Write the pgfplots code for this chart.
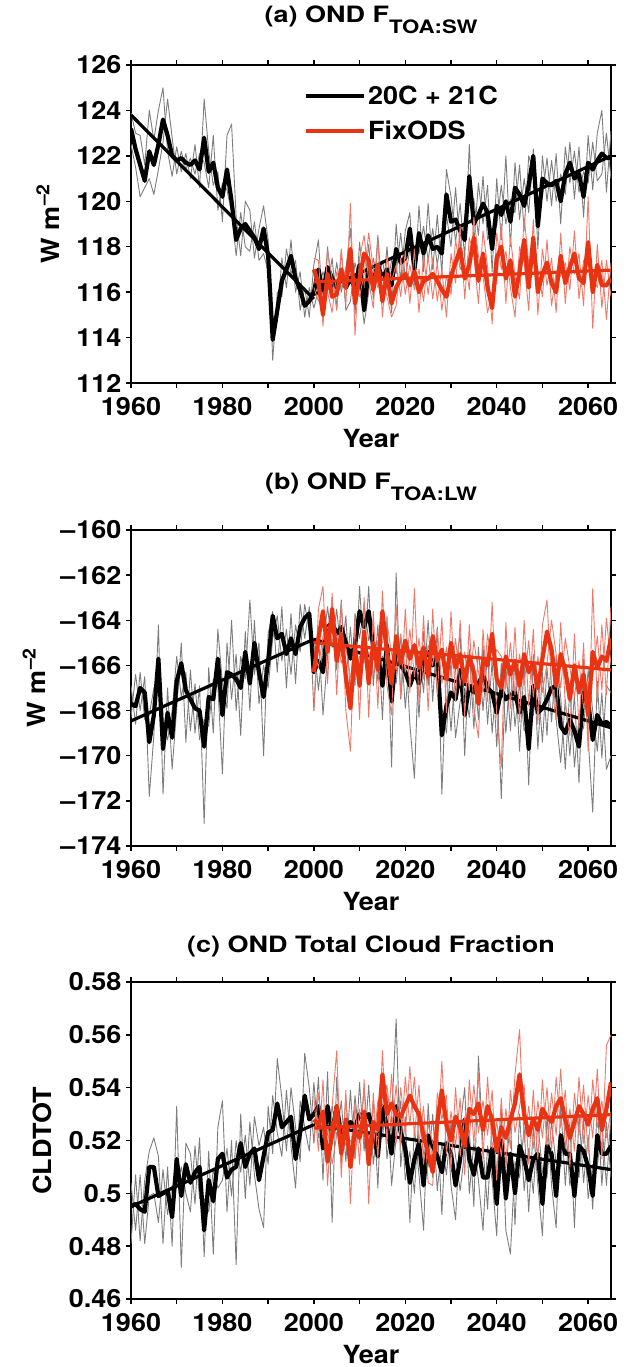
\documentclass[border=0pt]{standalone}
\usepackage{fontspec}
\setmainfont{TeX Gyre Heros}[FakeStretch=1.08]
\newfontfamily\titlefont{TeX Gyre Heros}[FakeStretch=1.2]
\usepackage{pgfplots}
\pgfplotsset{compat=1.18}
\usepackage{pgfplotstable}
\definecolor{redthick}{RGB}{232,52,18}
\definecolor{redthin}{RGB}{240,120,105}
\definecolor{graythin}{RGB}{125,125,125}
\newcommand{\bigf}{\fontsize{25}{25}\selectfont\bfseries}
\newcommand{\titf}{\titlefont\fontsize{22.5}{22.5}\selectfont\bfseries}

\pgfplotstableread{
year m g1 g2
1960 123.2 123.9 122.5
1961 122.3 123.0 121.5
1962 121.6 122.9 120.2
1963 120.9 121.6 120.6
1964 122.2 124.0 121.0
1965 121.6 122.7 120.3
1966 122.5 124.0 121.4
1967 123.6 125.0 122.6
1968 122.9 122.2 124.5
1969 122.0 121.1 122.8
1970 121.8 122.4 121.2
1971 121.9 121.3 122.2
1972 121.7 122.1 121.4
1973 121.6 121.0 121.9
1974 121.8 122.5 121.2
1975 121.4 120.6 122.1
1976 122.8 124.5 121.7
1977 121.3 122.2 120.6
1978 121.7 120.7 122.9
1979 120.6 121.3 119.6
1980 120.2 119.1 120.8
1981 121.4 122.9 120.5
1982 120.0 123.4 119.5
1983 118.3 119.3 117.6
1984 118.8 117.6 119.5
1985 119.0 120.0 118.0
1986 118.7 119.6 117.8
1987 118.4 117.5 119.1
1988 117.9 118.8 117.4
1989 118.8 119.8 117.7
1990 117.6 118.3 116.9
1991 113.9 113.0 114.7
1992 115.2 116.0 114.7
1993 116.5 115.8 117.5
1994 117.0 117.9 116.2
1995 117.6 116.8 118.3
1996 116.6 117.4 116.0
1997 116.1 115.2 116.9
1998 115.4 116.2 114.9
1999 115.6 114.9 116.2
2000 116.0 117.2 115.3
2001 117.0 118.3 116.1
2002 116.0 115.2 116.9
2003 117.1 118.0 116.2
2004 116.6 115.9 117.5
2005 116.2 117.3 115.3
2006 116.8 116.0 117.8
2007 116.2 117.0 115.2
2008 116.6 118.8 115.6
2009 116.2 115.0 117.3
2010 117.2 118.2 116.4
2011 115.2 116.2 114.6
2012 117.0 118.1 116.0
2013 116.5 115.7 117.5
2014 117.2 118.5 116.4
2015 116.6 115.7 117.4
2016 117.0 118.0 116.2
2017 116.3 115.1 117.4
2018 117.9 119.0 116.8
2019 117.3 116.5 118.6
2020 117.5 118.7 116.6
2021 118.8 119.5 117.9
2022 117.0 116.3 118.0
2023 118.6 119.8 117.7
2024 117.7 116.9 118.9
2025 118.5 119.9 117.4
2026 117.9 117.0 118.8
2027 118.0 119.4 117.2
2028 117.7 116.8 118.6
2029 120.3 121.4 119.4
2030 119.1 120.2 118.0
2031 119.2 118.2 120.6
2032 118.7 119.9 117.9
2033 118.3 117.5 119.3
2034 121.1 122.5 120.2
2035 119.0 118.1 120.1
2036 119.4 120.8 118.5
2037 119.9 119.0 121.1
2038 119.5 120.7 118.3
2039 117.9 116.9 118.8
2040 119.8 121.0 118.9
2041 119.4 118.3 120.7
2042 120.0 122.0 119.0
2043 119.1 118.0 120.1
2044 120.6 121.7 119.5
2045 120.3 119.2 121.6
2046 119.8 121.0 118.7
2047 120.7 119.5 122.0
2048 122.0 122.3 121.3
2049 118.9 117.9 120.0
2050 121.0 122.0 120.2
2051 120.8 120.0 121.9
2052 120.7 121.8 119.8
2053 120.9 120.0 122.1
2054 120.0 121.2 119.0
2055 121.2 120.3 122.4
2056 121.7 122.6 120.8
2057 121.0 120.1 122.2
2058 121.2 122.4 120.4
2059 120.2 119.3 121.3
2060 121.7 122.9 120.8
2061 121.4 120.5 122.6
2062 121.8 123.0 120.9
2063 122.1 124.0 121.2
2064 121.9 120.4 123.0
2065 121.9 123.1 121.0
}\tabA

\pgfplotstableread{
year m r1 r2
2000 117.0 117.5 116.2
2001 116.4 117.4 115.6
2002 115.0 114.5 116.0
2003 116.8 117.8 116.0
2004 115.8 116.6 115.1
2005 115.9 115.2 116.9
2006 117.0 117.9 116.2
2007 116.2 115.4 117.1
2008 117.9 119.9 116.8
2009 115.5 114.1 116.6
2010 116.6 117.5 115.8
2011 117.7 118.5 116.8
2012 117.4 116.5 118.6
2013 116.1 115.3 117.0
2014 117.2 118.3 116.2
2015 115.6 114.9 116.7
2016 116.8 117.6 115.8
2017 115.5 116.5 114.9
2018 116.2 117.2 115.4
2019 116.6 115.8 117.5
2020 116.8 117.8 115.9
2021 116.3 115.5 117.2
2022 116.9 117.9 116.1
2023 116.0 115.1 117.0
2024 116.5 117.6 115.6
2025 116.6 115.9 117.6
2026 116.8 117.5 115.7
2027 116.5 115.6 117.3
2028 116.1 117.0 115.2
2029 115.8 114.9 116.7
2030 116.7 117.7 115.9
2031 117.3 116.4 118.3
2032 117.9 118.9 117.0
2033 116.6 115.7 117.5
2034 117.2 118.4 116.1
2035 118.4 117.6 119.3
2036 116.5 115.5 117.6
2037 117.7 118.7 116.7
2038 116.2 117.1 115.1
2039 115.3 114.6 116.0
2040 117.5 118.6 116.4
2041 118.0 117.0 119.0
2042 116.6 117.8 115.5
2043 117.4 116.2 118.4
2044 115.8 114.9 116.7
2045 116.9 118.0 115.7
2046 118.3 117.3 119.3
2047 116.2 115.2 117.3
2048 118.4 119.2 117.4
2049 116.0 115.0 117.0
2050 116.8 117.9 115.8
2051 117.3 116.3 118.3
2052 116.4 117.5 115.4
2053 116.0 115.1 116.9
2054 117.6 118.6 116.7
2055 116.4 115.5 117.3
2056 117.1 118.0 116.1
2057 117.7 116.8 118.7
2058 116.6 117.7 115.7
2059 116.4 115.4 117.4
2060 118.2 120.2 117.2
2061 116.0 114.4 116.8
2062 117.2 118.1 116.2
2063 116.3 115.3 117.4
2064 116.3 117.4 114.8
2065 116.6 115.8 117.3
}\tabAr

\pgfplotstableread{
year m g1 g2
1960 -167.7 -168.3 -166.9
1961 -167.8 -166.4 -168.6
1962 -167.0 -168.0 -166.3
1963 -167.2 -166.5 -168.4
1964 -169.4 -171.8 -168.2
1965 -168.2 -169.1 -167.0
1966 -165.7 -164.2 -166.8
1967 -169.7 -171.7 -168.5
1968 -168.1 -167.0 -169.3
1969 -169.2 -170.6 -168.0
1970 -166.7 -167.9 -165.6
1971 -165.9 -165.0 -167.4
1972 -167.1 -169.4 -166.3
1973 -167.5 -166.2 -168.9
1974 -167.9 -169.0 -166.8
1975 -168.0 -166.9 -169.3
1976 -169.6 -173.0 -168.4
1977 -167.4 -166.1 -168.7
1978 -167.5 -169.0 -166.6
1979 -165.7 -164.4 -166.9
1980 -168.2 -166.8 -170.8
1981 -166.3 -167.9 -165.0
1982 -166.4 -164.0 -167.5
1983 -166.6 -168.0 -165.5
1984 -167.0 -165.6 -169.1
1985 -165.4 -166.6 -164.5
1986 -166.8 -163.1 -168.0
1987 -165.0 -166.4 -164.0
1988 -166.3 -165.0 -167.7
1989 -167.4 -170.0 -166.0
1990 -165.8 -164.6 -167.0
1991 -163.8 -163.6 -164.8
1992 -164.8 -166.3 -163.8
1993 -164.6 -163.4 -165.8
1994 -165.5 -167.0 -164.4
1995 -164.8 -163.7 -166.4
1996 -165.5 -166.8 -164.2
1997 -164.3 -163.3 -165.4
1998 -163.9 -164.8 -163.3
1999 -163.7 -163.4 -164.5
2000 -166.3 -168.0 -165.0
2001 -165.8 -164.6 -167.1
2002 -166.3 -168.2 -165.1
2003 -164.3 -165.6 -163.4
2004 -164.1 -163.0 -165.2
2005 -164.6 -166.2 -163.5
2006 -164.3 -163.1 -165.6
2007 -165.0 -166.7 -163.8
2008 -165.7 -164.3 -167.4
2009 -165.1 -166.9 -163.7
2010 -163.6 -162.5 -164.8
2011 -164.3 -165.8 -163.3
2012 -163.6 -162.5 -164.9
2013 -165.2 -166.9 -164.1
2014 -165.5 -164.2 -166.7
2015 -166.9 -168.4 -165.6
2016 -165.1 -163.8 -166.5
2017 -167.6 -170.5 -166.4
2018 -165.4 -161.9 -166.8
2019 -166.0 -167.5 -164.7
2020 -166.3 -164.9 -167.9
2021 -166.9 -168.6 -165.5
2022 -166.3 -171.0 -165.1
2023 -166.8 -165.4 -168.3
2024 -165.7 -167.2 -164.5
2025 -165.4 -164.0 -166.9
2026 -166.0 -167.6 -164.8
2027 -165.6 -164.3 -167.2
2028 -169.1 -171.7 -167.9
2029 -167.8 -166.2 -169.0
2030 -167.2 -168.9 -165.8
2031 -167.5 -166.1 -169.2
2032 -166.2 -164.6 -167.6
2033 -168.2 -170.0 -167.0
2034 -166.9 -165.3 -168.3
2035 -167.2 -168.8 -165.9
2036 -166.8 -165.2 -168.4
2037 -166.4 -168.0 -165.1
2038 -167.0 -165.5 -168.6
2039 -167.2 -169.0 -165.8
2040 -168.1 -166.6 -169.6
2041 -167.1 -171.9 -165.9
2042 -167.5 -166.0 -169.0
2043 -167.3 -168.9 -166.0
2044 -167.2 -165.8 -168.7
2045 -168.1 -169.8 -166.8
2046 -167.4 -165.9 -168.9
2047 -169.7 -171.3 -168.4
2048 -166.9 -165.5 -168.2
2049 -168.1 -169.7 -166.7
2050 -167.9 -166.3 -169.4
2051 -167.5 -169.1 -166.1
2052 -167.0 -165.4 -168.5
2053 -166.9 -168.4 -165.6
2054 -168.7 -170.3 -167.4
2055 -169.0 -167.5 -170.6
2056 -168.4 -170.0 -167.0
2057 -168.9 -167.3 -170.5
2058 -169.6 -171.2 -168.3
2059 -167.2 -165.7 -168.8
2060 -167.6 -169.2 -166.2
2061 -169.3 -172.5 -168.0
2062 -168.2 -166.7 -169.8
2063 -168.6 -170.1 -167.2
2064 -168.5 -166.9 -170.6
2065 -168.7 -167.2 -170.0
}\tabB

\pgfplotstableread{
year m r1 r2
2000 -166.3 -168.0 -165.2
2001 -164.8 -163.5 -166.1
2002 -163.6 -162.5 -164.7
2003 -165.4 -166.8 -164.3
2004 -163.5 -162.8 -164.9
2005 -165.8 -167.3 -164.6
2006 -164.6 -163.2 -165.9
2007 -166.5 -168.0 -165.2
2008 -167.9 -169.8 -166.5
2009 -165.2 -163.9 -166.6
2010 -166.9 -168.4 -165.6
2011 -164.5 -163.0 -165.9
2012 -166.8 -168.3 -165.4
2013 -165.0 -163.6 -166.4
2014 -166.2 -167.9 -164.9
2015 -163.6 -162.7 -165.0
2016 -165.4 -166.9 -164.1
2017 -166.8 -168.2 -165.5
2018 -164.7 -163.3 -166.2
2019 -165.9 -167.4 -164.6
2020 -164.9 -163.5 -166.3
2021 -165.7 -167.2 -164.4
2022 -165.1 -162.6 -166.5
2023 -166.1 -167.7 -164.8
2024 -165.2 -163.8 -166.6
2025 -166.5 -168.0 -165.1
2026 -164.7 -163.5 -166.0
2027 -165.8 -167.3 -164.4
2028 -165.3 -163.9 -166.8
2029 -166.6 -168.1 -165.2
2030 -165.0 -163.6 -166.4
2031 -166.1 -167.6 -164.8
2032 -165.5 -164.0 -166.9
2033 -166.7 -168.3 -165.4
2034 -165.6 -164.2 -167.1
2035 -166.3 -167.9 -164.9
2036 -167.7 -169.2 -166.3
2037 -165.8 -164.4 -167.2
2038 -166.0 -167.6 -164.6
2039 -164.6 -163.2 -166.0
2040 -166.6 -168.2 -165.3
2041 -167.0 -170.5 -165.6
2042 -165.6 -164.1 -167.0
2043 -166.4 -167.9 -165.0
2044 -165.8 -164.3 -167.3
2045 -166.9 -168.5 -165.5
2046 -165.5 -164.0 -166.9
2047 -166.3 -167.8 -164.9
2048 -165.9 -164.4 -167.4
2049 -167.0 -168.6 -165.6
2050 -165.7 -164.2 -167.2
2051 -164.5 -163.1 -165.9
2052 -165.3 -166.9 -164.0
2053 -166.9 -168.4 -165.5
2054 -165.5 -164.1 -167.0
2055 -166.2 -167.7 -164.8
2056 -167.5 -169.1 -166.1
2057 -166.0 -164.6 -167.4
2058 -167.2 -168.8 -165.8
2059 -166.4 -165.0 -167.9
2060 -168.2 -169.8 -166.8
2061 -165.4 -162.6 -166.5
2062 -166.1 -167.6 -164.7
2063 -165.6 -164.2 -167.1
2064 -165.8 -167.3 -163.9
2065 -164.8 -163.4 -166.0
}\tabBr

\pgfplotstableread{
year m g1 g2
1960 0.495 0.481 0.504
1961 0.496 0.507 0.486
1962 0.494 0.482 0.507
1963 0.493 0.505 0.481
1964 0.510 0.516 0.499
1965 0.510 0.521 0.500
1966 0.499 0.514 0.489
1967 0.500 0.481 0.509
1968 0.501 0.510 0.492
1969 0.491 0.480 0.503
1970 0.513 0.533 0.502
1971 0.499 0.472 0.510
1972 0.511 0.519 0.500
1973 0.504 0.515 0.493
1974 0.508 0.496 0.518
1975 0.510 0.521 0.498
1976 0.486 0.476 0.498
1977 0.505 0.516 0.493
1978 0.497 0.477 0.509
1979 0.513 0.525 0.502
1980 0.515 0.535 0.505
1981 0.506 0.493 0.517
1982 0.509 0.520 0.499
1983 0.510 0.473 0.520
1984 0.519 0.530 0.508
1985 0.510 0.498 0.522
1986 0.515 0.527 0.503
1987 0.517 0.507 0.529
1988 0.505 0.494 0.518
1989 0.514 0.487 0.525
1990 0.523 0.533 0.511
1991 0.524 0.515 0.537
1992 0.534 0.551 0.523
1993 0.525 0.536 0.514
1994 0.527 0.516 0.539
1995 0.529 0.540 0.518
1996 0.513 0.525 0.502
1997 0.523 0.512 0.535
1998 0.537 0.553 0.525
1999 0.528 0.540 0.516
2000 0.530 0.519 0.542
2001 0.533 0.544 0.521
2002 0.517 0.505 0.529
2003 0.533 0.546 0.522
2004 0.523 0.489 0.533
2005 0.533 0.544 0.521
2006 0.522 0.511 0.535
2007 0.524 0.536 0.512
2008 0.527 0.514 0.539
2009 0.525 0.537 0.513
2010 0.530 0.519 0.542
2011 0.528 0.540 0.516
2012 0.530 0.518 0.541
2013 0.523 0.535 0.511
2014 0.514 0.502 0.526
2015 0.533 0.545 0.521
2016 0.525 0.513 0.537
2017 0.515 0.528 0.503
2018 0.533 0.566 0.521
2019 0.523 0.510 0.535
2020 0.517 0.529 0.505
2021 0.504 0.489 0.516
2022 0.513 0.525 0.500
2023 0.519 0.507 0.531
2024 0.503 0.486 0.515
2025 0.522 0.534 0.510
2026 0.518 0.506 0.530
2027 0.514 0.526 0.501
2028 0.508 0.492 0.519
2029 0.519 0.531 0.507
2030 0.515 0.503 0.527
2031 0.503 0.490 0.514
2032 0.513 0.525 0.501
2033 0.528 0.540 0.516
2034 0.513 0.500 0.524
2035 0.507 0.519 0.495
2036 0.517 0.505 0.552
2037 0.506 0.486 0.518
2038 0.506 0.518 0.494
2039 0.517 0.505 0.529
2040 0.496 0.484 0.508
2041 0.520 0.532 0.508
2042 0.498 0.486 0.510
2043 0.515 0.477 0.527
2044 0.500 0.512 0.488
2045 0.518 0.506 0.530
2046 0.513 0.525 0.501
2047 0.505 0.493 0.517
2048 0.513 0.525 0.500
2049 0.515 0.503 0.527
2050 0.496 0.484 0.508
2051 0.518 0.530 0.506
2052 0.515 0.503 0.527
2053 0.499 0.487 0.511
2054 0.522 0.534 0.510
2055 0.515 0.503 0.527
2056 0.515 0.527 0.503
2057 0.499 0.487 0.511
2058 0.518 0.530 0.506
2059 0.516 0.504 0.528
2060 0.510 0.522 0.498
2061 0.499 0.494 0.511
2062 0.522 0.534 0.510
2063 0.515 0.503 0.527
2064 0.515 0.527 0.503
2065 0.518 0.506 0.530
}\tabC

\pgfplotstableread{
year m r1 r2
2000 0.528 0.537 0.519
2001 0.526 0.516 0.538
2002 0.531 0.543 0.521
2003 0.512 0.503 0.524
2004 0.522 0.533 0.511
2005 0.533 0.554 0.522
2006 0.515 0.506 0.526
2007 0.528 0.539 0.518
2008 0.510 0.496 0.520
2009 0.524 0.534 0.513
2010 0.521 0.511 0.532
2011 0.531 0.543 0.520
2012 0.511 0.496 0.522
2013 0.527 0.538 0.517
2014 0.524 0.513 0.535
2015 0.545 0.554 0.533
2016 0.530 0.519 0.541
2017 0.534 0.545 0.523
2018 0.530 0.519 0.541
2019 0.529 0.540 0.518
2020 0.533 0.522 0.544
2021 0.537 0.548 0.526
2022 0.533 0.522 0.544
2023 0.530 0.541 0.519
2024 0.522 0.511 0.533
2025 0.515 0.526 0.504
2026 0.508 0.519 0.503
2027 0.527 0.516 0.538
2028 0.539 0.550 0.528
2029 0.526 0.515 0.537
2030 0.520 0.531 0.509
2031 0.529 0.518 0.540
2032 0.525 0.536 0.514
2033 0.518 0.507 0.529
2034 0.532 0.543 0.521
2035 0.530 0.519 0.541
2036 0.534 0.545 0.523
2037 0.524 0.513 0.535
2038 0.533 0.544 0.522
2039 0.528 0.517 0.539
2040 0.516 0.527 0.505
2041 0.525 0.514 0.536
2042 0.521 0.532 0.510
2043 0.528 0.517 0.539
2044 0.534 0.545 0.523
2045 0.545 0.562 0.533
2046 0.530 0.519 0.541
2047 0.522 0.533 0.511
2048 0.528 0.517 0.539
2049 0.524 0.535 0.513
2050 0.532 0.521 0.543
2051 0.529 0.540 0.518
2052 0.527 0.516 0.538
2053 0.533 0.544 0.522
2054 0.536 0.525 0.547
2055 0.528 0.539 0.517
2056 0.521 0.510 0.532
2057 0.527 0.538 0.516
2058 0.533 0.522 0.544
2059 0.530 0.541 0.519
2060 0.526 0.515 0.537
2061 0.532 0.543 0.521
2062 0.536 0.525 0.547
2063 0.524 0.535 0.513
2064 0.532 0.521 0.556
2065 0.542 0.531 0.560
}\tabCr

\pgfplotsset{
  panel/.style={
    scale only axis, width=480pt,
    xmin=1960, xmax=2065,
    xtick={1960,1970,...,2060},
    xticklabels={1960,,1980,,2000,,2020,,2040,,2060},
    tick align=outside, major tick length=5pt,
    every tick/.style={line width=1.5pt, black},
    axis line style={line width=1.9pt},
    tick label style={font=\bigf},
    xticklabel style={anchor=base, yshift=-27pt},
    yticklabel style={xshift=-1pt},
    xlabel={Year},
    xlabel style={font=\bigf, at={(rel axis cs:0.5,0)}, anchor=base, yshift=-64pt},
    ylabel style={font=\bigf, anchor=center},
    title style={font=\titf, anchor=base},
    every axis plot/.append style={line join=round},
  },
  gthin/.style={graythin, line width=0.9pt, forget plot},
  rthin/.style={redthin, line width=0.9pt, forget plot},
  bmean/.style={black, line width=4.2pt},
  rmean/.style={redthick, line width=4.2pt},
  btrend/.style={black, line width=3.2pt, forget plot},
  rtrend/.style={redthick, line width=3.2pt, forget plot},
}

\begin{document}
\begin{tikzpicture}
\path[use as bounding box] (0,0) rectangle (627pt,-1367pt);

% ---------- (a)
\begin{axis}[panel, at={(131pt,-65pt)}, anchor=north west, height=318pt,
  ymin=112, ymax=126, ytick={112,114,...,126},
  yticklabels={112,114,116,118,120,122,124,126},
  title={(a) OND F\raisebox{-11pt}{\fontsize{18.5}{18.5}\selectfont TOA:SW}},
  title style={at={(rel axis cs:0.5,1)}, yshift=36pt},
  ylabel={W m\raisebox{10pt}{\fontsize{18}{18}\selectfont \kern1pt–2}},
  ylabel style={at={(rel axis cs:-0.173,0.5)}},
  legend style={draw=none, fill=none, at={(rel axis cs:0.36,0.94)}, anchor=north west,
    font=\bigf, inner sep=0pt, row sep=11pt, nodes={inner sep=2pt}},
  legend cell align=left,
  legend image code/.code={\draw[#1] (0pt,0pt) -- (58pt,0pt);},
]
\addplot[gthin] table[x=year,y=g1]{\tabA};
\addplot[gthin] table[x=year,y=g2]{\tabA};
\addplot[bmean] table[x=year,y=m]{\tabA};
\addlegendentry{20C + 21C}
\addplot[btrend] coordinates {(1960,123.8) (2000,115.7)};
\addplot[btrend] coordinates {(2000,115.9) (2065,122.0)};
\addplot[rthin] table[x=year,y=r1]{\tabAr};
\addplot[rthin] table[x=year,y=r2]{\tabAr};
\addplot[rmean] table[x=year,y=m]{\tabAr};
\addlegendentry{FixODS}
\addplot[rtrend] coordinates {(2000,116.45) (2065,116.97)};
\end{axis}

% ---------- (b)
\begin{axis}[panel, at={(131pt,-530pt)}, anchor=north west, height=316pt,
  ymin=-174, ymax=-160, ytick={-174,-172,...,-160},
  yticklabels={–\kern1pt174,–\kern1pt172,–\kern1pt170,–\kern1pt168,–\kern1pt166,–\kern1pt164,–\kern1pt162,–\kern1pt160},
  title={(b) OND F\raisebox{-11pt}{\fontsize{18.5}{18.5}\selectfont TOA:LW}},
  title style={at={(rel axis cs:0.5,1)}, yshift=35pt},
  ylabel={W m\raisebox{10pt}{\fontsize{18}{18}\selectfont \kern1pt–2}},
  ylabel style={at={(rel axis cs:-0.202,0.5)}},
]
\addplot[gthin] table[x=year,y=g1]{\tabB};
\addplot[gthin] table[x=year,y=g2]{\tabB};
\addplot[bmean] table[x=year,y=m]{\tabB};
\addplot[btrend] coordinates {(1960,-168.46) (2000,-164.84)};
\addplot[btrend] coordinates {(2000,-164.84) (2065,-168.76)};
\addplot[rthin] table[x=year,y=r1]{\tabBr};
\addplot[rthin] table[x=year,y=r2]{\tabBr};
\addplot[rmean] table[x=year,y=m]{\tabBr};
\addplot[rtrend] coordinates {(2000,-164.99) (2065,-166.2)};
\end{axis}

% ---------- (c)
\begin{axis}[panel, at={(131pt,-982pt)}, anchor=north west, height=317pt,
  ymin=0.46, ymax=0.58, ytick={0.46,0.48,0.5,0.52,0.54,0.56,0.58},
  yticklabels={0.46,0.48,0.5,0.52,0.54,0.56,0.58},
  title={(c) OND Total Cloud Fraction},
  title style={at={(rel axis cs:0.5,1)}, yshift=24pt},
  ylabel={CLDTOT},
  ylabel style={at={(rel axis cs:-0.185,0.5)}},
]
\addplot[gthin] table[x=year,y=g1]{\tabC};
\addplot[gthin] table[x=year,y=g2]{\tabC};
\addplot[bmean] table[x=year,y=m]{\tabC};
\addplot[btrend] coordinates {(1960,0.495) (2000,0.526)};
\addplot[btrend] coordinates {(2000,0.526) (2065,0.509)};
\addplot[rthin] table[x=year,y=r1]{\tabCr};
\addplot[rthin] table[x=year,y=r2]{\tabCr};
\addplot[rmean] table[x=year,y=m]{\tabCr};
\addplot[rtrend] coordinates {(2000,0.5247) (2065,0.5298)};
\end{axis}
\end{tikzpicture}
\end{document}
